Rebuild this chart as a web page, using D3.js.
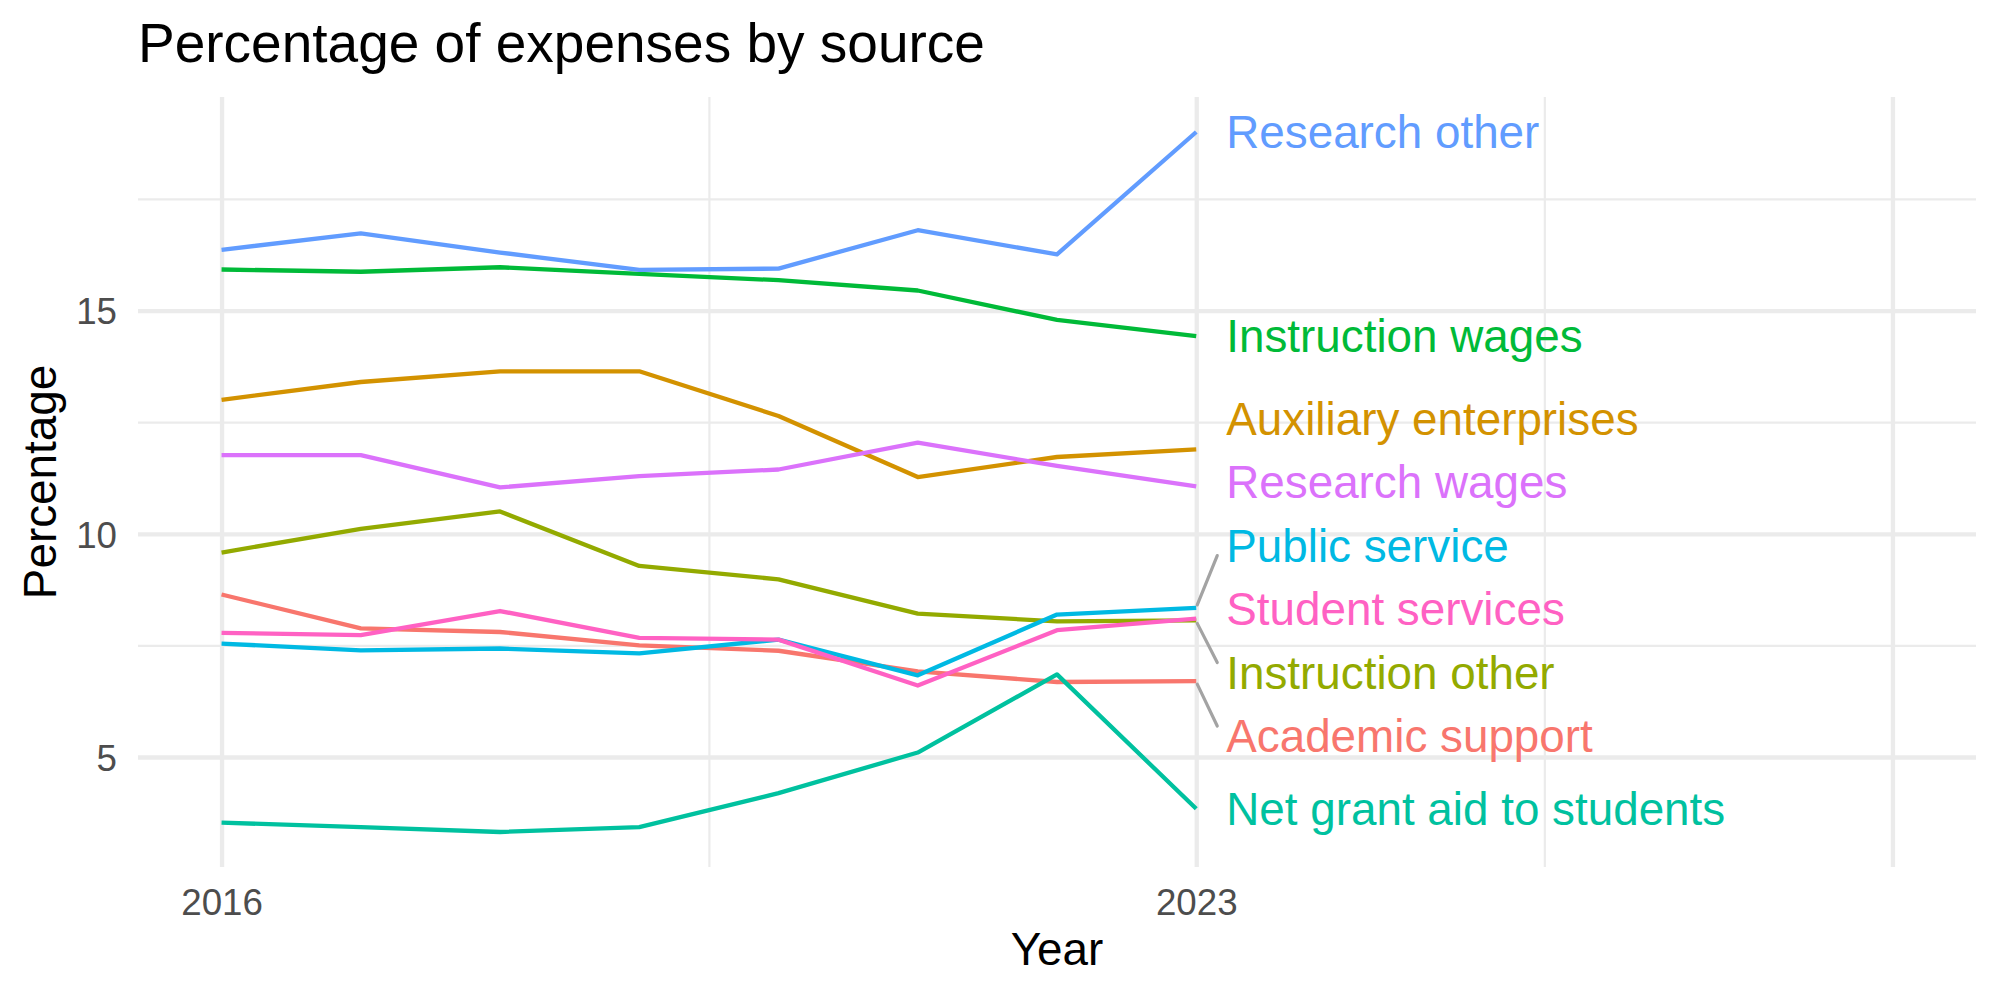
<!DOCTYPE html>
<html>
<head>
<meta charset="utf-8">
<script src="https://cdn.jsdelivr.net/npm/d3@7"></script>
<style>
  body { margin: 0; background: #ffffff; }
  svg { display: block; font-family: "Liberation Sans", Arial, sans-serif; }
</style>
</head>
<body>
<div id="chart"></div>
<script>
// years on the x axis
const years = [2016, 2017, 2018, 2019, 2020, 2021, 2022, 2023]

// one array per expense source (percent of expenses)
const academicSupport = [8.64, 7.88, 7.80, 7.50, 7.38, 6.92, 6.68, 6.70]
const auxiliaryEnterprises = [13.00, 13.40, 13.64, 13.64, 12.64, 11.27, 11.72, 11.89]
const instructionOther = [9.58, 10.11, 10.50, 9.28, 8.98, 8.21, 8.04, 8.06]
const instructionWages = [15.92, 15.87, 15.97, 15.82, 15.68, 15.45, 14.79, 14.43]
const netGrantAid = [3.53, 3.43, 3.32, 3.43, 4.19, 5.10, 6.85, 3.84]
const publicService = [7.54, 7.39, 7.43, 7.32, 7.63, 6.83, 8.19, 8.34]
const researchOther = [16.36, 16.73, 16.30, 15.91, 15.94, 16.80, 16.26, 19.00]
const researchWages = [11.76, 11.76, 11.04, 11.29, 11.44, 12.04, 11.52, 11.06]
const studentServices = [7.78, 7.73, 8.27, 7.67, 7.63, 6.60, 7.84, 8.10]

const categories = [
  "Academic support", "Auxiliary enterprises", "Instruction other",
  "Instruction wages", "Net grant aid to students", "Public service",
  "Research other", "Research wages", "Student services"
]
const seriesValues = [
  academicSupport, auxiliaryEnterprises, instructionOther,
  instructionWages, netGrantAid, publicService,
  researchOther, researchWages, studentServices
]

// axis breaks and labels
const xLimits = [2016, 2028]
const xMajorBreaks = [2016, 2023, 2028]
const xMinorBreaks = [2019.5, 2025.5]
const xTickLabels = ["2016", "2023", ""]
const yMajorBreaks = [5, 10, 15]
const yMinorBreaks = [7.5, 12.5, 17.5]

const width = 2000
const height = 1000
const margin = { left: 138, right: 24, top: 97, bottom: 133 }
const panelLeft = margin.left
const panelRight = width - margin.right
const panelTop = margin.top
const panelBottom = height - margin.bottom

// ggplot hue palette, in category order
const colors = d3.scaleOrdinal()
  .domain(categories)
  .range(["#F8766D", "#D39200", "#93AA00", "#00BA38", "#00C19F", "#00B9E3", "#619CFF", "#DB72FB", "#FF61C3"])

const series = categories.map(function(name, i) {
  return {
    name: name,
    values: seriesValues[i].map(function(v, j) {
      return { year: years[j], value: v }
    })
  }
})

const allValues = d3.merge(seriesValues)
const yExtent = d3.extent(allValues)
const yPad = (yExtent[1] - yExtent[0]) * 0.05
const xPad = (xLimits[1] - xLimits[0]) * 0.05

const xScale = d3.scaleLinear()
  .domain([xLimits[0] - xPad, xLimits[1] + xPad])
  .range([panelLeft, panelRight])
const yScale = d3.scaleLinear()
  .domain([yExtent[0] - yPad, yExtent[1] + yPad])
  .range([panelBottom, panelTop])

const svg = d3.select('#chart').append('svg').attr('width', width).attr('height', height)

const gridColor = '#EBEBEB'

// minor grid
svg.append('g')
  .attr('transform', 'translate(' + panelLeft + ',0)')
  .call(d3.axisLeft(yScale).tickValues(yMinorBreaks).tickSize(-(panelRight - panelLeft)).tickFormat(''))
  .call(function(g) { g.select('.domain').remove() })
  .selectAll('line').attr('stroke', gridColor).attr('stroke-width', 2.2)

svg.append('g')
  .attr('transform', 'translate(0,' + panelBottom + ')')
  .call(d3.axisBottom(xScale).tickValues(xMinorBreaks).tickSize(-(panelBottom - panelTop)).tickFormat(''))
  .call(function(g) { g.select('.domain').remove() })
  .selectAll('line').attr('stroke', gridColor).attr('stroke-width', 2.2)

// major grid
svg.append('g')
  .attr('transform', 'translate(' + panelLeft + ',0)')
  .call(d3.axisLeft(yScale).tickValues(yMajorBreaks).tickSize(-(panelRight - panelLeft)).tickFormat(''))
  .call(function(g) { g.select('.domain').remove() })
  .selectAll('line').attr('stroke', gridColor).attr('stroke-width', 4.3)

svg.append('g')
  .attr('transform', 'translate(0,' + panelBottom + ')')
  .call(d3.axisBottom(xScale).tickValues(xMajorBreaks).tickSize(-(panelBottom - panelTop)).tickFormat(''))
  .call(function(g) { g.select('.domain').remove() })
  .selectAll('line').attr('stroke', gridColor).attr('stroke-width', 4.3)

// tick labels
const yAxis = svg.append('g')
  .attr('transform', 'translate(' + panelLeft + ',0)')
  .call(d3.axisLeft(yScale).tickValues(yMajorBreaks).tickSize(0).tickPadding(21))
yAxis.select('.domain').remove()
yAxis.selectAll('text')
  .attr('font-size', 36.7)
  .attr('font-family', '"Liberation Sans", Arial, sans-serif')
  .attr('fill', '#4D4D4D')
  .attr('dy', '0.36em')

const xAxis = svg.append('g')
  .attr('transform', 'translate(0,' + panelBottom + ')')
  .call(d3.axisBottom(xScale).tickValues(xMajorBreaks).tickSize(0).tickPadding(22)
    .tickFormat(function(d, i) { return xTickLabels[i] }))
xAxis.select('.domain').remove()
xAxis.selectAll('text')
  .attr('font-size', 36.7)
  .attr('font-family', '"Liberation Sans", Arial, sans-serif')
  .attr('fill', '#4D4D4D')

// lines
const line = d3.line()
  .x(function(d) { return xScale(d.year) })
  .y(function(d) { return yScale(d.value) })

svg.append('g').selectAll('path').data(series)
  .enter()
  .append('path')
  .attr('d', function(d) { return line(d.values) })
  .attr('fill', 'none')
  .attr('stroke', function(d) { return colors(d.name) })
  .attr('stroke-width', 4.3)
  .attr('stroke-linejoin', 'round')

// end labels, pushed apart vertically like ggrepel
const labelSize = 45.8
const labelGap = 63.5
const lastYear = years[years.length - 1]

const labels = series.map(function(d) {
  const last = d.values[d.values.length - 1]
  return { name: d.name, anchor: yScale(last.value), x0: xScale(last.year) }
}).sort(function(a, b) { return a.anchor - b.anchor })

function layoutCluster(c) {
  const mean = d3.mean(c, function(d) { return d.anchor })
  c.forEach(function(d, i) {
    d.y = mean - (c.length - 1) / 2 * labelGap + i * labelGap
  })
}

let clusters = labels.map(function(d) { return [d] })
clusters.forEach(layoutCluster)
let merged = true
while (merged) {
  merged = false
  for (let i = 1; i < clusters.length; i++) {
    const above = clusters[i - 1]
    const below = clusters[i]
    if (below[0].y - above[above.length - 1].y < labelGap) {
      const c = above.concat(below)
      layoutCluster(c)
      clusters.splice(i - 1, 2, c)
      merged = true
      break
    }
  }
}

const labelX = xScale(lastYear) + 30

svg.append('g').selectAll('line').data(labels.filter(function(d) {
    return Math.abs(d.y - d.anchor) > 40
  }))
  .enter()
  .append('line')
  .attr('x1', function(d) { return d.x0 + 1 })
  .attr('y1', function(d) { return d.anchor + (d.y > d.anchor ? 3 : -3) })
  .attr('x2', labelX - 9)
  .attr('y2', function(d) { return d.y + (d.y > d.anchor ? -10 : 10) })
  .attr('stroke', '#A3A3A3')
  .attr('stroke-width', 3.2)
  .attr('stroke-linecap', 'round')

svg.append('g').selectAll('text').data(labels)
  .enter()
  .append('text')
  .attr('x', labelX)
  .attr('y', function(d) { return d.y + 0.358 * labelSize })
  .attr('font-size', labelSize)
  .attr('fill', function(d) { return colors(d.name) })
  .text(function(d) { return d.name })

// titles
svg.append('text')
  .attr('x', panelLeft)
  .attr('y', 62)
  .attr('font-size', 55)
  .attr('fill', '#000000')
  .text('Percentage of expenses by source')

svg.append('text')
  .attr('x', (panelLeft + panelRight) / 2)
  .attr('y', 965)
  .attr('text-anchor', 'middle')
  .attr('font-size', 45.8)
  .attr('fill', '#000000')
  .text('Year')

svg.append('text')
  .attr('transform', 'translate(56,' + (panelTop + panelBottom) / 2 + ') rotate(-90)')
  .attr('text-anchor', 'middle')
  .attr('font-size', 45.8)
  .attr('fill', '#000000')
  .text('Percentage')
</script>
</body>
</html>
